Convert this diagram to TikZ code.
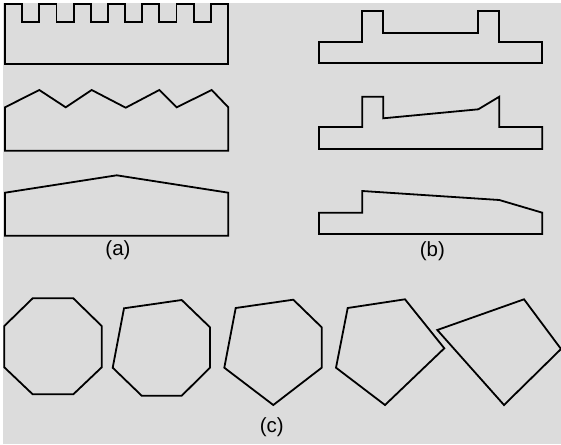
\documentclass[tikz,border=0pt]{standalone}
\usepackage{fontspec}
\setmainfont{Liberation Sans}
\definecolor{panelgray}{RGB}{220,220,220}
\tikzset{
    outline/.style={black, line width=1.8pt, line join=miter},
    caption/.style={font=\fontsize{20.5}{24}\selectfont, inner sep=0pt}
}
\begin{document}
\begin{tikzpicture}[x=1pt,y=-1pt]
    \useasboundingbox (0,0) rectangle (561,444);
    % Background
    \fill[white] (0,0) rectangle (561,444);
    \fill[panelgray] (3,3) rectangle (561,444);

    % (a) crenellated, zigzag and gabled profiles
    \draw[outline] (5,64) -- (5,4)
        \foreach \i in {0,...,5} { -- ++(17.15,0) -- ++(0,18) -- ++(17.15,0) -- ++(0,-18) }
        -- (228,4) -- (228,64) -- cycle;
    \draw[outline] (5,150.7) -- (5,107.3) -- (39.3,90) -- (65.7,107.3) -- (91.7,90)
        -- (125.7,107.7) -- (159.3,90) -- (176.7,107.3) -- (211.7,90)
        -- (228.3,107.3) -- (228.3,150.7) -- cycle;
    \draw[outline] (5,235.7) -- (5,192.7) -- (116.7,175.3) -- (228.3,192.7)
        -- (228.3,235.7) -- cycle;
    \node[caption] (labela) at (118,250) {(a)};

    % (b) stepped profiles
    \draw[outline] (319,62.7) -- (319,41.7) -- (362.3,41.7) -- (362.3,11) -- (383.3,11)
        -- (383.3,32.7) -- (477.7,32.7) -- (477.7,11) -- (499.3,11) -- (499.3,41.7)
        -- (542.3,41.7) -- (542.3,62.7) -- cycle;
    \draw[outline] (319,149) -- (319,127) -- (362.3,127) -- (362.3,96.7) -- (383.3,96.7)
        -- (383.3,118.3) -- (478.3,109.3) -- (499.3,96.7) -- (499.3,127)
        -- (542.3,127) -- (542.3,149) -- cycle;
    \draw[outline] (319,234) -- (319,212.7) -- (362.3,212.7) -- (362.3,191)
        -- (499.3,200) -- (542.3,212.7) -- (542.3,234) -- cycle;
    \node[caption] (labelb) at (432.3,250.7) {(b)};

    % (c) polygons losing vertices
    \draw[outline] (32.7,298.3) -- (73.3,298.3) -- (101.7,326) -- (101.7,367.3)
        -- (73.3,394.3) -- (32.7,394.3) -- (4.3,367.3) -- (4.3,326) -- cycle;
    \draw[outline] (124,308.3) -- (181.7,300) -- (210,327.3) -- (210,367.7)
        -- (181.7,395.7) -- (141.7,395.7) -- (112.7,367.7) -- cycle;
    \draw[outline] (235.7,308) -- (293.3,299.7) -- (321.7,327.3) -- (321.7,367.7)
        -- (273.3,405) -- (224.3,367.7) -- cycle;
    \draw[outline] (347.7,308) -- (405,299.3) -- (444.3,348.3) -- (385,405)
        -- (336,367.7) -- cycle;
    \draw[outline] (437.3,330) -- (524,299.3) -- (561,349) -- (504,405) -- cycle;
    \node[caption] (labelc) at (271.7,426.7) {(c)};
\end{tikzpicture}
\end{document}
